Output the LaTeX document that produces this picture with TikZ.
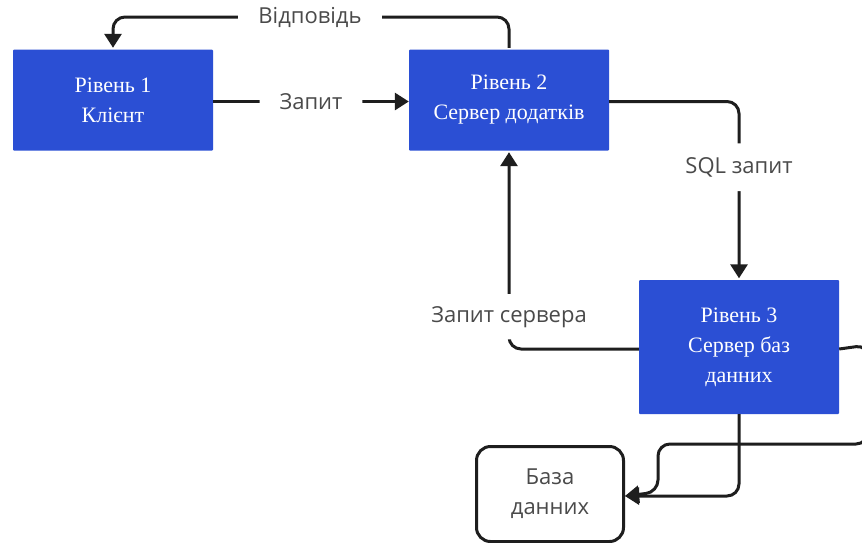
\documentclass[tikz,border=0pt]{standalone}
\usepackage{fontspec}
\setmainfont{Liberation Serif}
\newfontfamily\labelfont{Open Sans}
\usetikzlibrary{arrows.meta}
\definecolor{boxblue}{HTML}{2B4FD4}
\definecolor{labelgray}{HTML}{4A4A4A}
\definecolor{linecol}{HTML}{1E1E1E}
\begin{document}
\begin{tikzpicture}[x=1pt,y=-1pt,
  tier/.style={fill=boxblue, text=white, align=center, font=\fontsize{22}{30}\selectfont,
    inner sep=0pt, minimum width=200pt, minimum height=101pt, rounded corners=1pt},
  dbbox/.style={draw=linecol, line width=3pt, fill=white, rounded corners=14pt, align=center,
    text=labelgray, font=\labelfont\fontsize{22}{30}\selectfont,
    inner sep=0pt, minimum width=147pt, minimum height=95pt},
  link/.style={line width=3pt, draw=linecol, rounded corners=12pt,
    -{Triangle[length=14pt,width=17pt]}},
  lbl/.style={fill=white, text=labelgray, font=\labelfont\fontsize{22}{26}\selectfont,
    inner xsep=20pt, inner ysep=6pt}]
\fill[white] (0,0) rectangle (862,542);
\useasboundingbox (0,0) rectangle (862,542);

\node[tier] (t1) at (113,100) {Рівень 1\\Клієнт};
\node[tier] (t2) at (509,100) {Рівень 2\\Сервер додатків};
\node[tier, minimum height=134pt] (t3) at (739,347) {Рівень 3\\Сервер баз\\данних};
\node[dbbox] (db) at (550,494) {База\\данних};

\coordinate (rtop) at (310,17);
\coordinate (rc1) at (868,345);
\coordinate (rc2) at (868,444);
\coordinate (rc3) at (658,444);
\coordinate (rc4) at (658,492);

% Відповідь
\draw[link] ([yshift=1.5pt]t2.north) |- (rtop) -| ([yshift=1.5pt]t1.north);
\node[lbl] at (rtop) {Відповідь};
% Запит
\draw[link] ([yshift=-1.5pt]t1.east) -- ([yshift=-1.5pt]t2.west) node[midway, lbl] {Запит};
% SQL запит
\draw[link] ([yshift=-1.5pt]t2.east) -| ([yshift=1.5pt]t3.north) node[pos=0.686, lbl, inner xsep=6pt, inner ysep=14pt] {SQL запит};
% Запит сервера
\draw[link] ([yshift=-2pt]t3.west) -| ([yshift=-1.5pt]t2.south) node[pos=0.582, lbl, inner xsep=4pt, inner ysep=12pt] {Запит сервера};
% to database
\draw[link] (t3.south) |- ([yshift=-2pt]db.east);
\draw[link] ([yshift=-2pt]t3.east) -- (rc1) -- (rc2) -- (rc3) -- (rc4) -- ([yshift=-2pt]db.east);
\end{tikzpicture}
\end{document}
